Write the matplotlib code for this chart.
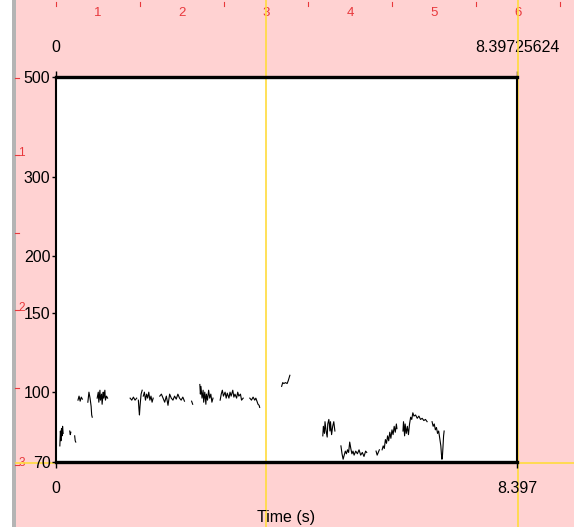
import matplotlib
matplotlib.use("Agg")
import matplotlib.pyplot as plt
import matplotlib.patches as mpatches

# Screen size in pixels
W, H = 574, 527

# Plot area (pixels on the screenshot)
PLOT_LEFT, PLOT_RIGHT = 56, 517
PLOT_TOP, PLOT_BOTTOM = 77, 462

# Axis ranges
T_START, T_END = 0.0, 8.39725624
F_MIN, F_MAX = 70, 500

y_ticks = [70, 100, 150, 200, 300, 500]
y_tick_labels = ["70", "100", "150", "200", "300", "500"]
top_labels = ["0", "8.39725624"]
bottom_labels = ["0", "8.397"]
x_label = "Time (s)"

# Pitch contour pieces (time in s, pitch in Hz)
pitch_t = [
    [0.07, 0.08, 0.09, 0.10, 0.11, 0.12, 0.13],
    [0.25, 0.26, 0.27],
    [0.34, 0.35, 0.36],
    [0.40, 0.42, 0.44, 0.46, 0.48],
    [0.58, 0.60, 0.62, 0.64, 0.65, 0.66],
    [0.75, 0.77, 0.78, 0.80, 0.81, 0.83, 0.84, 0.86, 0.87, 0.89, 0.90, 0.92, 0.94],
    [1.35, 1.38, 1.41, 1.44, 1.47],
    [1.50, 1.51, 1.52, 1.53, 1.55, 1.57],
    [1.59, 1.61, 1.63, 1.65, 1.67, 1.69, 1.71, 1.73, 1.75, 1.77],
    [1.89, 1.92, 1.95, 1.98, 2.01, 2.04, 2.07, 2.10, 2.13, 2.16, 2.19, 2.22, 2.25, 2.28, 2.31, 2.34],
    [2.47, 2.49],
    [2.62, 2.63, 2.64, 2.66, 2.68, 2.69, 2.71, 2.73, 2.74, 2.76, 2.78, 2.80, 2.82, 2.84, 2.86],
    [2.99, 3.01, 3.03, 3.05, 3.08, 3.10, 3.12, 3.15, 3.17, 3.19, 3.22, 3.24, 3.26, 3.29, 3.31, 3.33, 3.36, 3.38, 3.41],
    [3.53, 3.56, 3.59, 3.62, 3.64, 3.66, 3.68, 3.70, 3.71],
    [4.11, 4.13, 4.15, 4.18, 4.21, 4.23, 4.25, 4.26],
    [4.86, 4.87, 4.89, 4.90, 4.92, 4.94, 4.95, 4.97, 4.99, 5.00, 5.02, 5.04, 5.06, 5.08],
    [5.19, 5.21, 5.23, 5.25, 5.27, 5.29, 5.31, 5.33, 5.35, 5.37, 5.39, 5.41, 5.43, 5.46, 5.49, 5.52, 5.55, 5.58, 5.61, 5.64, 5.66],
    [5.83, 5.85, 5.87, 5.89],
    [5.94, 5.96, 5.98, 6.00, 6.02, 6.04, 6.06, 6.08, 6.10, 6.12, 6.14, 6.16, 6.18, 6.20, 6.21],
    [6.32, 6.33, 6.35, 6.36, 6.38, 6.40, 6.42, 6.44, 6.46, 6.48, 6.50, 6.52, 6.55, 6.58, 6.61, 6.64, 6.67, 6.70, 6.73, 6.76],
    [6.85, 6.87, 6.89, 6.91, 6.93, 6.95, 6.97, 6.99, 7.01, 7.02, 7.03, 7.04, 7.05, 7.06, 7.07],
]
pitch_f = [
    [76, 82, 78, 83, 80, 84, 81],
    [82, 80.5, 81.5],
    [80, 78, 77.5],
    [96, 98, 95.5, 97.5, 96.5],
    [95, 100, 97, 93, 89, 88],
    [97, 100, 95, 101, 96, 99, 94, 100, 97, 101, 96, 98, 97],
    [97, 96, 97.5, 96, 97],
    [96, 92, 89, 93, 99, 101],
    [98, 100, 96, 99, 97, 100, 96, 98, 95, 97],
    [98, 99, 97, 95, 98, 93.5, 99, 97, 96, 98, 96.5, 99, 97, 96, 97.5, 95.5],
    [95.5, 94],
    [104, 99, 103, 97, 101, 95, 100, 94, 99, 96, 101, 97, 99, 95, 97],
    [96, 99, 101, 98, 100, 97, 99.5, 97, 100, 98, 101, 97.5, 99, 97, 100, 98, 99, 96, 97],
    [97, 96, 97.5, 96, 97, 95.5, 94, 93.5, 92.5],
    [103, 105, 104.5, 105, 104.5, 106, 108, 109],
    [80, 84, 81, 86, 82, 79.5, 85, 87, 82, 86, 80.5, 84, 86, 82],
    [76, 73, 71, 72.5, 74, 73, 74.5, 73.5, 77.5, 75, 73, 74, 72.5, 74, 73, 74.5, 72.5, 73.5, 72, 74, 73.5],
    [74, 72.5, 73.5, 74.5],
    [74.5, 76, 75, 78.5, 77, 80, 78, 81.5, 79, 82.5, 80.5, 84, 81.5, 85, 83],
    [82, 86, 80, 85, 81, 84, 80.5, 85, 88, 87, 90, 88.5, 89, 87.5, 88.5, 87, 87.5, 86.5, 87, 86],
    [86, 84, 85, 82.5, 83.5, 81, 82, 79, 76, 73, 71, 72.5, 76, 80, 82],
]

# Screen ruler numbers (inches)
ruler_numbers_top = [1, 2, 3, 4, 5, 6]
ruler_numbers_left = [1, 2, 3]

PINK = "#ffd2d2"
RULER_RED = "#e8383c"
YELLOW = "#ffdc3c"
GREY = "#b4b4b4"
LABEL_SIZE = 11.5

plt.rcParams["font.family"] = ["Liberation Sans", "DejaVu Sans"]

fig = plt.figure(figsize=(W / 100, H / 100), dpi=100)
fig.patch.set_facecolor("white")

# Background layer in pixel coordinates
bg = fig.add_axes([0, 0, 1, 1])
bg.set_xlim(0, W)
bg.set_ylim(H, 0)
bg.axis("off")
bg.add_patch(mpatches.Rectangle((16, 0), W - 16, H, color=PINK, lw=0))
bg.add_patch(mpatches.Rectangle((12, 0), 4, H, color=GREY, lw=0))

# Screen ruler: top
ORIGIN_X, ORIGIN_Y = 14, 0
INCH_X, INCH_Y = 84, 155
for k in range(1, 14, 2):
    x = ORIGIN_X + k * INCH_X / 2
    bg.plot([x, x], [2, 6], color=RULER_RED, lw=0.8)
for n in ruler_numbers_top:
    bg.text(ORIGIN_X + n * INCH_X, 13, str(n), color=RULER_RED, fontsize=9.5,
            ha="center", va="center")
# Screen ruler: left
for k in range(1, 7):
    y = ORIGIN_Y + k * INCH_Y / 2
    bg.plot([15, 19], [y, y], color=RULER_RED, lw=0.8)
for n in ruler_numbers_left:
    bg.text(18.5, ORIGIN_Y + n * INCH_Y - 2, str(n), color=RULER_RED, fontsize=8.5,
            ha="left", va="center")

# Pitch plot
ax = fig.add_axes([PLOT_LEFT / W, 1 - PLOT_BOTTOM / H,
                   (PLOT_RIGHT - PLOT_LEFT) / W, (PLOT_BOTTOM - PLOT_TOP) / H])
ax.set_facecolor("white")
ax.set_yscale("log")
ax.set_xlim(T_START, T_END)
ax.set_ylim(F_MIN, F_MAX)

for ts, fs in zip(pitch_t, pitch_f):
    ax.plot(ts, fs, color="black", lw=0.8, zorder=2)

# Yellow selection lines (screen coordinates)
ax.plot([265.5, 265.5], [0, H], color=YELLOW, lw=1.2, transform=bg.transData, clip_on=False, zorder=1)
ax.plot([517.5, 517.5], [0, H], color=YELLOW, lw=1.2, transform=bg.transData, clip_on=False, zorder=1)
ax.plot([16, W], [463, 463], color=YELLOW, lw=1.2, transform=bg.transData, clip_on=False, zorder=1)

for side in ["top", "bottom"]:
    ax.spines[side].set_linewidth(2.4)
for side in ["left", "right"]:
    ax.spines[side].set_linewidth(1.5)

ax.yaxis.set_minor_locator(matplotlib.ticker.NullLocator())
ax.set_yticks(y_ticks, labels=y_tick_labels)
ax.set_xticks([T_START, T_END], labels=bottom_labels)
ax.tick_params(axis="y", direction="out", length=3, width=1, pad=1, labelsize=LABEL_SIZE)
ax.tick_params(axis="x", direction="out", length=4, width=1, pad=9.6, labelsize=LABEL_SIZE, top=False)

top = ax.secondary_xaxis("top")
top.set_xticks([T_START, T_END], labels=top_labels)
top.tick_params(direction="out", length=4, width=1, pad=12, labelsize=LABEL_SIZE)
top.spines["top"].set_visible(False)

ax.set_xlabel(x_label, fontsize=LABEL_SIZE, labelpad=10)

fig.savefig("out.png", dpi=100)
